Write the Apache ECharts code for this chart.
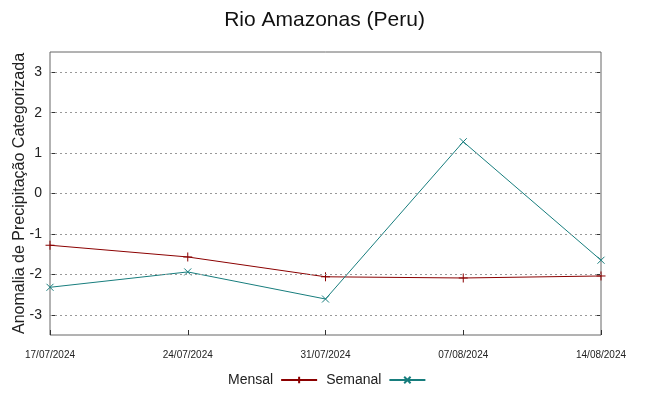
<!DOCTYPE html>
<html><head><meta charset="utf-8">
<script src="https://cdn.jsdelivr.net/npm/echarts@6/dist/echarts.min.js"></script>
<style>html,body{margin:0;padding:0;background:#fff}#c{width:649px;height:396px}</style>
</head><body><div id="c"></div>
<script>
var categories = ['17/07/2024','24/07/2024','31/07/2024','07/08/2024','14/08/2024'];
var mensal = [-1.28, -1.57, -2.06, -2.09, -2.04];
var semanal = [-2.32, -1.94, -2.61, 1.28, -1.65];
var yTicks = [-3, -2, -1, 0, 1, 2, 3];

var chart = echarts.init(document.getElementById('c'), null, {renderer:'canvas'});
var plus = 'path://M0,-5L0,5M-5,0L5,0';
var cross = 'path://M-5,-5L5,5M-5,5L5,-5';
chart.setOption({
  animation:false,
  title:{text:'Rio Amazonas (Peru)', left:'center', top:5,
    textStyle:{fontFamily:'Liberation Sans', fontSize:21, fontWeight:'normal', color:'#111'}},
  grid:{left:50, right:48, top:52, bottom:61, outerBoundsMode:'none', containLabel:false,
    show:true, borderColor:'#666', borderWidth:1, backgroundColor:'transparent'},
  legend:{bottom:4, left:223, itemWidth:36, itemHeight:8, itemGap:8, align:'right',
    textStyle:{fontFamily:'Liberation Sans', fontSize:14, color:'#222', padding:[0,3,0,0]},
    data:['Mensal','Semanal']},
  xAxis:{type:'category', data:categories, boundaryGap:false,
    axisLine:{show:false, onZero:false},
    axisTick:{show:true, inside:true, length:5, lineStyle:{color:'#333'}},
    axisLabel:{fontFamily:'Liberation Sans', fontSize:10, color:'#222', margin:15, showMinLabel:true, showMaxLabel:true},
    splitLine:{show:false}},
  yAxis:[{type:'value', min:-3.5, max:3.5,
    axisLine:{show:false},
    axisLabel:{fontFamily:'Liberation Sans', fontSize:14, color:'#222', margin:8,
      customValues:yTicks},
    axisTick:{show:true, inside:true, length:5, lineStyle:{color:'#333'}, customValues:yTicks},
    splitLine:{show:false},
    name:'Anomalia de Precipitação Categorizada', nameLocation:'middle', nameGap:22, nameMoveOverlap:false,
    nameTextStyle:{fontFamily:'Liberation Sans', fontSize:16, color:'#222'}},
   {type:'value', min:-3.5, max:3.5, position:'right',
    axisLine:{show:false},
    axisTick:{show:true, inside:true, length:5, lineStyle:{color:'#333'}, customValues:yTicks},
    axisLabel:{show:false}, splitLine:{show:false}}],
  series:[
    {name:'Mensal', type:'line', data:mensal, symbol:plus, symbolSize:9,
     lineStyle:{color:'#8b0000', width:1}, itemStyle:{color:'#8b0000', borderColor:'#8b0000', borderWidth:1},
     markLine:{silent:true, symbol:'none', label:{show:false},
       lineStyle:{color:'#999', type:[2,3], width:1},
       data:yTicks.map(function(v){return {yAxis:v};})}},
    {name:'Semanal', type:'line', data:semanal, symbol:cross, symbolSize:7,
     lineStyle:{color:'#177d7d', width:1}, itemStyle:{color:'#177d7d', borderColor:'#177d7d', borderWidth:1}}
  ]
});
</script></body></html>
